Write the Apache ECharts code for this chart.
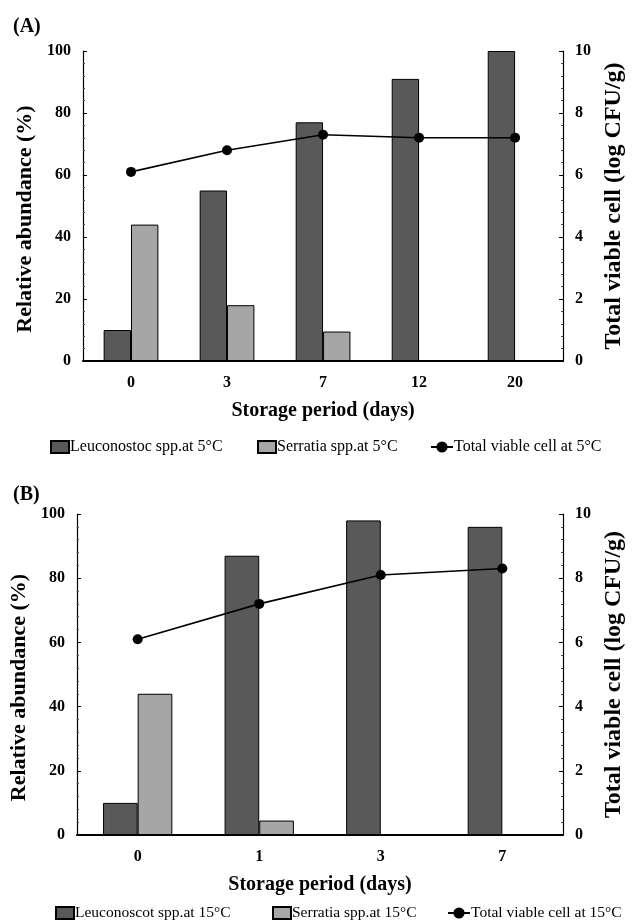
<!DOCTYPE html>
<html><head><meta charset="utf-8">
<script src="https://cdn.jsdelivr.net/npm/echarts@6/dist/echarts.min.js"></script>
<style>html,body{margin:0;padding:0;background:#fff}#c{width:634px;height:922px}</style>
</head><body><div id="c"></div><script>
// Panel A (5°C)
const daysA = ['0', '3', '7', '12', '20'];
const leucoA = [10, 55, 77, 91, 100];
const serrA = [44, 18, 9.5, 0, 0];
const tvcA = [6.1, 6.8, 7.3, 7.2, 7.2];
// Panel B (15°C)
const daysB = ['0', '1', '3', '7'];
const leucoB = [10, 87, 98, 96];
const serrB = [44, 4.5, 0, 0];
const tvcB = [6.1, 7.2, 8.1, 8.3];
// names
const namesA = ['Leuconostoc spp.at 5°C', 'Serratia spp.at 5°C', 'Total viable cell at 5°C'];
const namesB = ['Leuconoscot spp.at 15°C', 'Serratia spp.at 15°C', 'Total viable cell at 15°C'];
const xTitle = 'Storage period (days)';
const yLeftTitle = 'Relative abundance (%)';
const yRightTitle = 'Total viable cell (log CFU/g)';

const FONT = '"Liberation Serif", "Times New Roman", serif';
const DARK = '#595959', LIGHT = '#a6a6a6';

function xAxis(gi, cats) {
  return {
    type: 'category', gridIndex: gi, data: cats,
    axisLine: { lineStyle: { color: '#000', width: 2 } },
    axisTick: { show: false },
    axisLabel: { color: '#000', fontFamily: FONT, fontWeight: 'bold', fontSize: 16, margin: 14 },
    name: xTitle, nameLocation: 'middle', nameGap: 40,
    nameTextStyle: { color: '#000', fontFamily: FONT, fontWeight: 'bold', fontSize: 20 }
  };
}
function yAxis(gi, pos, max, interval, name, nameGap, fs, pad) {
  return {
    type: 'value', gridIndex: gi, position: pos, min: 0, max: max, interval: interval,
    splitLine: { show: false },
    axisLine: { show: true, lineStyle: { color: '#000', width: 1.2 } },
    axisTick: { show: true, inside: true, length: 4, lineStyle: { color: '#000' } },
    minorTick: { show: true, splitNumber: 5, length: 2, lineStyle: { color: '#444' } },
    axisLabel: { color: '#000', fontFamily: FONT, fontWeight: 'bold', fontSize: 16, margin: 12 },
    name: name, nameLocation: 'middle', nameGap: nameGap, nameRotate: 90,
    nameTextStyle: { color: '#000', fontFamily: FONT, fontWeight: 'bold', fontSize: fs, padding: pad }
  };
}
function bar(name, data, xi, yi, color) {
  return {
    type: 'bar', name: name, data: data, xAxisIndex: xi, yAxisIndex: yi,
    barGap: '0%', barCategoryGap: '43%',
    itemStyle: { color: color, borderColor: '#000', borderWidth: 1 }
  };
}
function line(name, data, xi, yi) {
  return {
    type: 'line', name: name, data: data, xAxisIndex: xi, yAxisIndex: yi,
    symbol: 'circle', symbolSize: 10, z: 5,
    lineStyle: { color: '#000', width: 1.6 },
    itemStyle: { color: '#000' }
  };
}
function legendItem(name, isLine, left, top, fs) {
  return {
    data: [isLine ? { name: name } : { name: name, icon: 'rect' }],
    left: left, top: top, itemWidth: isLine ? 22 : 18, itemHeight: isLine ? 14 : 12,
    itemGap: 0, padding: 0,
    textStyle: { color: '#000', fontFamily: FONT, fontSize: fs, padding: [0, 0, 0, -4] }
  };
}

const chart = echarts.init(document.getElementById('c'), null, { renderer: 'canvas' });
chart.setOption({
  animation: false,
  backgroundColor: '#fff',
  title: [
    { text: '(A)', left: 8, top: 12, textStyle: { fontFamily: FONT, fontWeight: 'bold', fontSize: 20, color: '#000' } },
    { text: '(B)', left: 8, top: 480, textStyle: { fontFamily: FONT, fontWeight: 'bold', fontSize: 20, color: '#000' } }
  ],
  grid: [
    { left: 83, right: 54, top: 51, height: 310 },
    { left: 68, right: 57, top: 514, height: 321 }
  ],
  legend: [
    legendItem(namesA[0], false, 50, 439, 16),
    legendItem(namesA[1], false, 257, 439, 16),
    legendItem(namesA[2], true, 430, 439, 16),
    legendItem(namesB[0], false, 55, 905, 15.5),
    legendItem(namesB[1], false, 272, 905, 15.5),
    legendItem(namesB[2], true, 447, 905, 15.5)
  ],
  xAxis: [xAxis(0, daysA), xAxis(1, daysB)],
  yAxis: [
    yAxis(0, 'left', 100, 20, yLeftTitle, 43, 22, [0, 26, 0, 0]),
    yAxis(0, 'right', 10, 2, yRightTitle, 33, 24, 0),
    yAxis(1, 'left', 100, 20, yLeftTitle, 40, 22, [0, 26, 0, 0]),
    yAxis(1, 'right', 10, 2, yRightTitle, 30, 24, 0)
  ],
  series: [
    bar(namesA[0], leucoA, 0, 0, DARK),
    bar(namesA[1], serrA, 0, 0, LIGHT),
    line(namesA[2], tvcA, 0, 1),
    bar(namesB[0], leucoB, 1, 2, DARK),
    bar(namesB[1], serrB, 1, 2, LIGHT),
    line(namesB[2], tvcB, 1, 3)
  ]
});
</script></body></html>
